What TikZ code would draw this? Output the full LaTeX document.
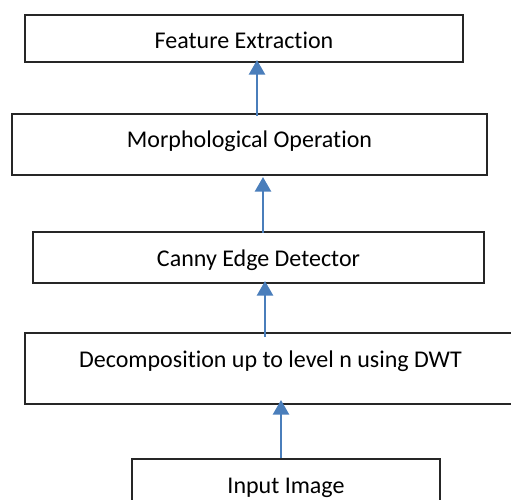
\documentclass[tikz,border=0pt]{standalone}
\usepackage{fontspec}
\setmainfont[Ligatures=NoCommon]{Carlito}
\usetikzlibrary{arrows.meta,fit}
\definecolor{arrblue}{HTML}{4A7EBB}
\begin{document}
\begin{tikzpicture}[x=0.75pt,y=-0.75pt,
 box/.style={draw=black!85,line width=1.1pt,inner sep=0pt,outer sep=0pt},
 lbl/.style={anchor=base,inner sep=0pt,font=\fontsize{18}{21}\selectfont},
 arr/.style={draw=arrblue,line width=2pt,-{Triangle[width=12pt,length=11pt]}}]
\useasboundingbox (0,0) rectangle (511,500);
\clip (0,0) rectangle (511,500);
\node[box,fit={(25,15) (463,62)}] (b1) {};
\node[box,fit={(12,114) (487,175)}] (b2) {};
\node[box,fit={(33,232) (484,283)}] (b3) {};
\node[box,fit={(25,333) (516,404)}] (b4) {};
\node[box,fit={(132,459) (440,520)}] (b5) {};
\node[lbl] (t1) at (244,48) {Feature Extraction};
\node[lbl] (t2) at (249.5,147) {Morphological Operation};
\node[lbl] (t3) at (258.5,266) {Canny Edge Detector};
\node[lbl] (t4) at (270.5,367) {Decomposition up to level n using DWT};
\node[lbl] (t5) at (286,493) {Input Image};
\coordinate (x1) at (257,0);
\coordinate (x2) at (263,0);
\coordinate (x3) at (265,0);
\coordinate (x4) at (281,0);
\draw[arr] ([yshift=-1.5pt]b2.north -| x1) -- ([yshift=1.5pt]b1.south -| x1);
\draw[arr] ([yshift=-0.5pt]b3.north -| x2) -- ([yshift=-1.5pt]b2.south -| x2);
\draw[arr] ([yshift=-3pt]b4.north -| x3) -- ([yshift=1.5pt]b3.south -| x3);
\draw[arr] ([yshift=0.5pt]b5.north -| x4) -- ([yshift=3pt]b4.south -| x4);
\end{tikzpicture}
\end{document}
